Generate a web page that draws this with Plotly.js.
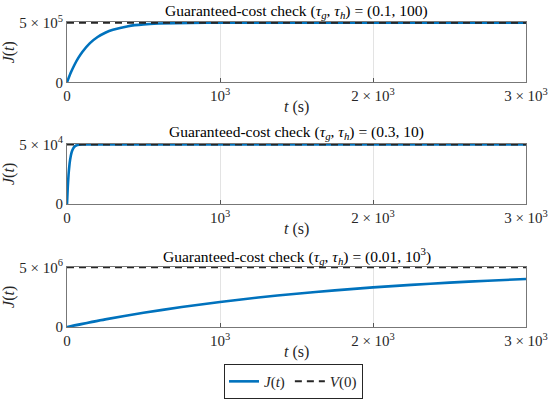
<!DOCTYPE html>
<html>
<head>
<meta charset="utf-8">
<script src="https://cdn.plot.ly/plotly-3.0.1.min.js"></script>
<style>html,body{margin:0;padding:0;background:#fff;}#chart{width:550px;height:411px;}</style>
</head>
<body>
<div id="chart"></div>
<script>
// Case 1: (tau_g, tau_h) = (0.1, 100)
const t1 = [0, 25, 50, 75, 100, 150, 200, 250, 300, 400, 500, 600, 800, 1000, 1500, 2000, 3000];
const J1 = [0, 82000, 150000, 207000, 255000, 329000, 380000, 416000, 441000, 471000, 486000, 493000, 498500, 499500, 500000, 500000, 500000];
const V1 = [500000, 500000];
// Case 2: (0.3, 10)
const t2 = [0, 5, 10, 15, 20, 30, 40, 50, 60, 80, 100, 150, 3000];
const J2 = [0, 14150, 24350, 31600, 36800, 43250, 46500, 48200, 49100, 49750, 49950, 50000, 50000];
const V2 = [50000, 50000];
// Case 3: (0.01, 10^3)
const t3 = [0, 250, 500, 750, 1000, 1250, 1500, 1750, 2000, 2250, 2500, 2750, 3000];
const J3 = [0, 640000, 1190000, 1670000, 2100000, 2470000, 2790000, 3070000, 3320000, 3530000, 3720000, 3880000, 4020000];
const V3 = [5000000, 5000000];
const tV = [0, 3000];

const titles = [
  "Guaranteed-cost check (<i>τ<sub>g</sub></i>, <i>τ<sub>h</sub></i>) = (0.1, 100)",
  "Guaranteed-cost check (<i>τ<sub>g</sub></i>, <i>τ<sub>h</sub></i>) = (0.3, 10)",
  "Guaranteed-cost check (<i>τ<sub>g</sub></i>, <i>τ<sub>h</sub></i>) = (0.01, 10<sup>3</sup>)"
];
const xTitle = "<i>t</i> (s)";
const yTitle = "<i>J</i>(<i>t</i>)";
const yTickVals = [[0, 500000], [0, 50000], [0, 5000000]];
const yTickText = [["0", "5 × 10<sup>5</sup>"], ["0", "5 × 10<sup>4</sup>"], ["0", "5 × 10<sup>6</sup>"]];
const xTickVals = [0, 1000, 2000, 3000];
const xTickText = ["0", "10<sup>3</sup>", "2 × 10<sup>3</sup>", "3 × 10<sup>3</sup>"];

const FONT = "Liberation Serif, DejaVu Serif, serif";
const blue = "#0072BD";
const ts = [t1, t2, t3], Js = [J1, J2, J3], Vs = [V1, V2, V3];
const domains = [[0.802, 1.0], [0.403, 0.601], [0.0, 0.198]];

const data = [];
const layout = {
  width: 550, height: 411,
  margin: {l: 67, r: 24, t: 22, b: 71},
  paper_bgcolor: "#fff", plot_bgcolor: "#fff",
  font: {family: FONT, size: 15, color: "#262626"},
  showlegend: true,
  legend: {orientation: "h", x: 0.4935, xanchor: "center", y: -0.179, yanchor: "middle",
           bordercolor: "#262626", borderwidth: 1, font: {family: FONT, size: 15, color: "#262626"},
           bgcolor: "#fff", tracegroupgap: 0},
  annotations: []
};

for (let i = 0; i < 3; i++) {
  const xa = i === 0 ? "x" : "x" + (i + 1);
  const ya = i === 0 ? "y" : "y" + (i + 1);
  data.push({x: ts[i], y: Js[i], xaxis: xa, yaxis: ya, type: "scatter", mode: "lines",
             line: {color: blue, width: 2.6, shape: "spline", smoothing: 0.6},
             name: "<i>J</i>(<i>t</i>)", showlegend: i === 0, legendgroup: "J"});
  data.push({x: tV, y: Vs[i], xaxis: xa, yaxis: ya, type: "scatter", mode: "lines",
             line: {color: "#262626", width: 2, dash: "7px,5px"},
             name: "<i>V</i>(0)", showlegend: i === 0, legendgroup: "V"});
  const ymax = yTickVals[i][1];
  layout["xaxis" + (i === 0 ? "" : i + 1)] = {
    domain: [0, 1], anchor: ya, range: [0, 3000],
    tickvals: xTickVals, ticktext: xTickText,
    ticks: "inside", ticklen: 4, tickcolor: "#555",
    showgrid: true, gridcolor: "#e3e3e3", gridwidth: 1,
    showline: true, linecolor: "#777", linewidth: 1, mirror: true,
    zeroline: false, tickfont: {family: FONT, size: 15, color: "#262626"}
  };
  layout["yaxis" + (i === 0 ? "" : i + 1)] = {
    domain: domains[i], anchor: xa, range: [0, ymax * 1.012],
    tickvals: yTickVals[i], ticktext: yTickText[i],
    ticks: "inside", ticklen: 4, tickcolor: "#555",
    showgrid: false,
    showline: true, linecolor: "#777", linewidth: 1, mirror: true,
    zeroline: false, tickfont: {family: FONT, size: 15, color: "#262626"},
    title: {text: yTitle, font: {family: FONT, size: 16, color: "#262626"}, standoff: 3}
  };
  layout.annotations.push({text: titles[i], xref: "paper", yref: "paper", x: 0.5, y: domains[i][1],
    xanchor: "center", yanchor: "middle", yshift: 11, showarrow: false,
    font: {family: FONT, size: 15.5, color: "#000"}});
  layout.annotations.push({text: xTitle, xref: "paper", yref: "paper", x: 0.5, y: domains[i][0],
    xanchor: "center", yanchor: "middle", yshift: -25, showarrow: false,
    font: {family: FONT, size: 16, color: "#262626"}});
}

Plotly.newPlot("chart", data, layout, {displayModeBar: false, staticPlot: true});
</script>
</body>
</html>
